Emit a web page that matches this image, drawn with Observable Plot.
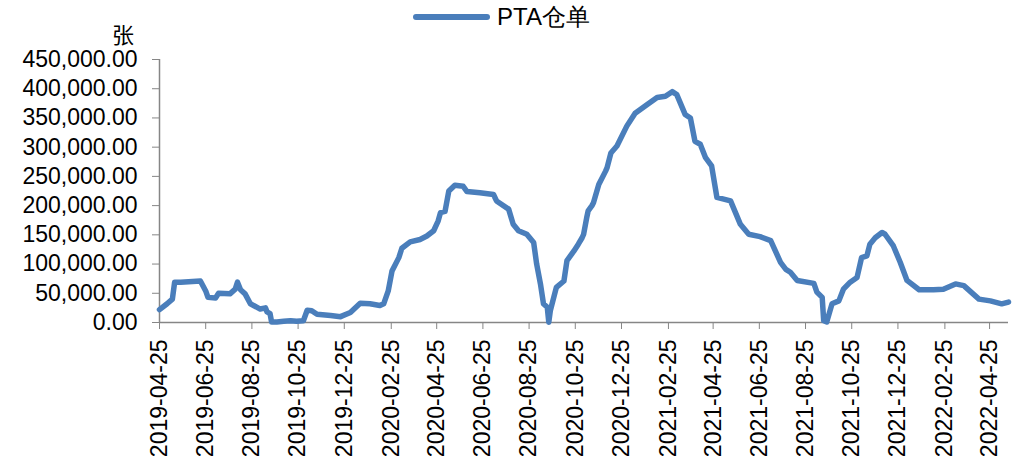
<!DOCTYPE html>
<html>
<head>
<meta charset="utf-8">
<script src="https://cdn.jsdelivr.net/npm/d3@7"></script>
<script src="https://cdn.jsdelivr.net/npm/@observablehq/plot@0.6"></script>
<style>
  html, body { margin: 0; padding: 0; background: #fff; }
  #wrap { position: relative; width: 1018px; height: 466px; font-family: "Liberation Sans", Arial, sans-serif; }
  #legend { position: absolute; left: 413px; top: 1px; display: flex; align-items: center; font-size: 24px; color: #000; }
  #legend .sw { width: 77px; height: 6px; background: #4a7ebb; margin-right: 7px; border-radius: 3px; }
  #unit { position: absolute; left: 112px; top: 20px; font-size: 22px; line-height: 26px; font-family: "Noto Sans CJK SC", sans-serif; color: #000; }
</style>
</head>
<body>
<div id="wrap">
  <div id="chart"></div>
  <div id="legend"><div class="sw"></div><span>PTA仓单</span></div>
  <div id="unit">张</div>
</div>
<script>
const seriesName = "PTA仓单";
const unitLabel = "张";
const dates = [
  "2019-04-25","2019-05-05","2019-05-12","2019-05-15","2019-05-23","2019-06-18","2019-06-25","2019-06-28",
  "2019-07-08","2019-07-12","2019-07-27","2019-08-03","2019-08-06","2019-08-10","2019-08-16","2019-08-23",
  "2019-09-05","2019-09-12","2019-09-14","2019-09-18","2019-09-20","2019-09-27","2019-10-06","2019-10-15",
  "2019-10-23","2019-11-01","2019-11-06","2019-11-12","2019-11-19","2019-12-07","2019-12-20","2020-01-02",
  "2020-01-15","2020-01-28","2020-02-10","2020-02-15","2020-02-21","2020-02-26","2020-03-06","2020-03-10",
  "2020-03-21","2020-04-03","2020-04-12","2020-04-21","2020-04-27","2020-04-30","2020-05-06","2020-05-11",
  "2020-05-19","2020-05-30","2020-06-04","2020-06-21","2020-07-09","2020-07-13","2020-07-29","2020-08-04",
  "2020-08-11","2020-08-22","2020-08-31","2020-09-04","2020-09-09","2020-09-13","2020-09-18","2020-09-20",
  "2020-09-22","2020-09-30","2020-10-10","2020-10-14","2020-10-23","2020-10-29","2020-11-03","2020-11-05",
  "2020-11-09","2020-11-11","2020-11-16","2020-11-18","2020-11-25","2020-12-04","2020-12-06","2020-12-11",
  "2020-12-19","2021-01-01","2021-01-12","2021-01-28","2021-02-10","2021-02-21","2021-03-02","2021-03-08",
  "2021-03-19","2021-03-26","2021-04-01","2021-04-08","2021-04-15","2021-04-23","2021-04-30","2021-05-18",
  "2021-05-31","2021-06-11","2021-06-26","2021-07-10","2021-07-23","2021-07-30","2021-08-05","2021-08-14",
  "2021-09-05","2021-09-09","2021-09-16","2021-09-18","2021-09-22","2021-09-29","2021-10-08","2021-10-14",
  "2021-10-23","2021-11-01","2021-11-07","2021-11-14","2021-11-18","2021-11-25","2021-12-04","2021-12-08",
  "2021-12-19","2021-12-28","2022-01-06","2022-01-22","2022-02-10","2022-02-23","2022-03-11","2022-03-22",
  "2022-04-11","2022-04-26","2022-05-11","2022-05-20"
];
const values = [
  22000,32000,40000,69000,69000,71000,54000,43000,
  42000,50000,49000,57000,69000,56000,49000,32000,
  23000,25000,18000,15000,1000,1000,2000,3000,
  2000,3000,21000,20000,14000,12000,10000,17000,
  33000,32000,29000,32000,54000,88000,111000,127000,
  138000,142000,148000,157000,174000,188000,190000,225000,
  235000,233000,224000,222000,219000,208000,194000,168000,
  157000,151000,137000,100000,66000,32000,26000,500,
  20000,60000,71000,106000,122000,134000,145000,151000,
  179000,191000,200000,205000,236000,259000,265000,290000,
  302000,336000,358000,373000,385000,387000,395000,390000,
  356000,350000,310000,305000,282000,268000,214000,208000,
  168000,151000,147000,140000,103000,91000,86000,72000,
  67000,52000,43000,3000,1000,32000,37000,57000,
  69000,77000,111000,114000,134000,145000,154000,151000,
  131000,103000,72000,56000,56000,57000,66000,63000,
  40000,37000,32000,35000
];
const tickLabels = [
  "2019-04-25","2019-06-25","2019-08-25","2019-10-25","2019-12-25","2020-02-25","2020-04-25",
  "2020-06-25","2020-08-25","2020-10-25","2020-12-25","2021-02-25","2021-04-25","2021-06-25",
  "2021-08-25","2021-10-25","2021-12-25","2022-02-25","2022-04-25"
];
const yTicks = [0,50000,100000,150000,200000,250000,300000,350000,400000,450000];
const xStart = "2019-04-25";
const xEnd = "2022-05-20";

const parse = d3.utcParse("%Y-%m-%d");
const data = dates.map((d, i) => ({date: parse(d), value: values[i]}));
const fmtY = d3.format(",.2f");
const fmtX = d3.utcFormat("%Y-%m-%d");

const chart = Plot.plot({
  width: 1018,
  height: 466,
  marginLeft: 159,
  marginRight: 10,
  marginTop: 59,
  marginBottom: 144,
  style: {fontFamily: "'Liberation Sans', Arial, sans-serif", fontSize: "23px", color: "#000", background: "#fff"},
  x: {type: "utc", domain: [parse(xStart), parse(xEnd)]},
  y: {domain: [0, 450000]},
  marks: [
    Plot.ruleY([0], {stroke: "#868686", strokeWidth: 1.5}),
    Plot.ruleX([parse(xStart)], {stroke: "#868686", strokeWidth: 1.5}),
    Plot.axisY({ticks: yTicks, tickFormat: fmtY, tickSize: 7, tickPadding: 15, stroke: "#868686", fill: "#000", label: null}),
    Plot.axisX({ticks: tickLabels.map(parse), tickFormat: fmtX, tickRotate: -90, tickSize: 7, tickPadding: 10, stroke: "#868686", fill: "#000", label: null}),
    Plot.line(data, {x: "date", y: "value", stroke: "#4a7ebb", strokeWidth: 5.5, strokeLinejoin: "round", strokeLinecap: "round"})
  ]
});
document.getElementById("chart").appendChild(chart);
</script>
</body>
</html>
